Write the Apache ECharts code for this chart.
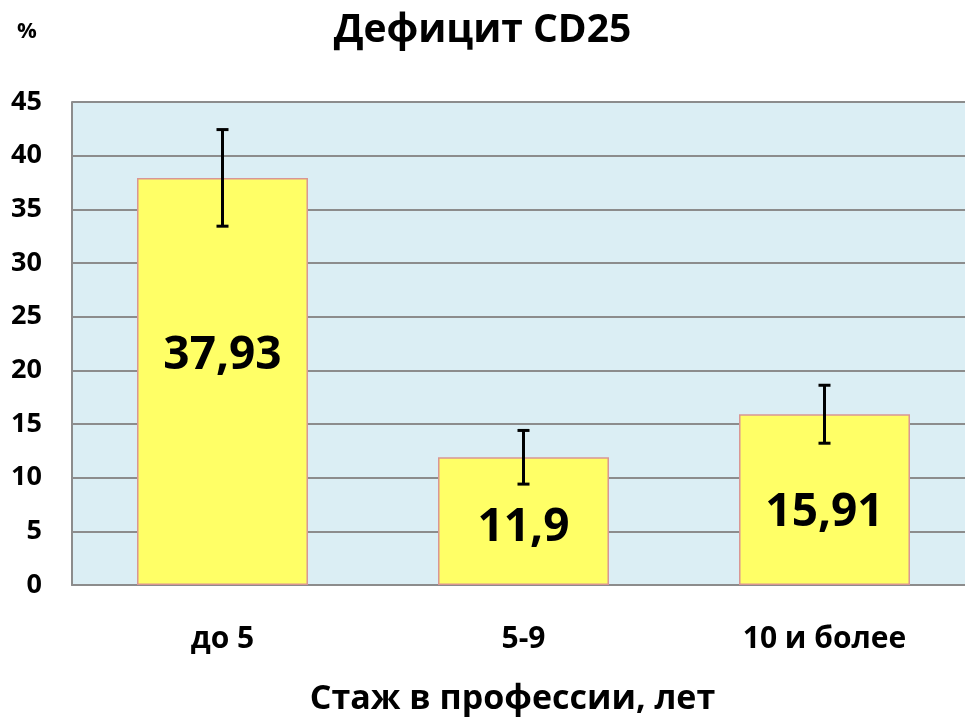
<!DOCTYPE html>
<html>
<head>
<meta charset="utf-8">
<script src="https://cdn.jsdelivr.net/npm/echarts@6/dist/echarts.min.js"></script>
<style>
  html, body { margin: 0; padding: 0; background: #fff; }
  #chart { width: 965px; height: 717px; }
</style>
</head>
<body>
<div id="chart"></div>
<script>
// данные
const categories = ['до 5', '5-9', '10 и более'];
const values = [37.93, 11.9, 15.91];
const errLow = [33.43, 9.4, 13.21];
const errHigh = [42.43, 14.4, 18.61];
const labelOffsets = [-26, 7, 13];

const FONT = '"Open Sans", "DejaVu Sans", sans-serif';

const chart = echarts.init(document.getElementById('chart'));

const option = {
  animation: false,
  title: [
    {
      text: 'Дефицит CD25',
      left: 'center',
      top: 6,
      textStyle: { fontFamily: FONT, fontSize: 39, fontWeight: 'bold', color: '#000' }
    },
    {
      text: '%',
      left: 12,
      top: 16,
      textStyle: { fontFamily: FONT, fontSize: 22, fontWeight: 'bold', color: '#000' }
    }
  ],
  grid: {
    left: 72,
    right: -10,
    top: 102,
    bottom: 132,
    outerBoundsMode: 'none',
    containLabel: false,
    show: true,
    backgroundColor: '#dbeef4',
    borderWidth: 0
  },
  xAxis: {
    type: 'category',
    data: categories,
    axisTick: { show: false },
    axisLine: { lineStyle: { color: '#8c8c8c', width: 2 } },
    axisLabel: {
      fontFamily: FONT, fontSize: 30, fontWeight: 'bold', color: '#000', margin: 39
    },
    name: 'Стаж в профессии, лет',
    nameLocation: 'middle',
    nameGap: 97,
    nameTextStyle: {
      fontFamily: FONT, fontSize: 34, fontWeight: 'bold', color: '#000', padding: [0, 22, 0, 0]
    }
  },
  yAxis: {
    type: 'value',
    min: 0,
    max: 45,
    interval: 5,
    axisLine: { show: true, lineStyle: { color: '#8c8c8c', width: 2 } },
    axisTick: { show: false },
    splitLine: { lineStyle: { color: '#8c8c8c', width: 2 } },
    axisLabel: {
      fontFamily: FONT, fontSize: 27, fontWeight: 'bold', color: '#000', margin: 30
    }
  },
  series: [
    {
      type: 'bar',
      barWidth: '56.8%',
      data: values.map((v, i) => ({
        value: v,
        label: { offset: [0, labelOffsets[i]] }
      })),
      itemStyle: { color: '#ffff66', borderColor: '#d99694', borderWidth: 1.5 },
      label: {
        show: true,
        position: 'inside',
        formatter: p => String(p.value).replace('.', ','),
        fontFamily: FONT,
        fontSize: 46,
        fontWeight: 'bold',
        color: '#000'
      },
      z: 2
    },
    {
      type: 'custom',
      data: categories.map((c, i) => [i, errLow[i], errHigh[i]]),
      renderItem: function (params, api) {
        const x = api.value(0);
        const lo = api.coord([x, api.value(1)]);
        const hi = api.coord([x, api.value(2)]);
        const cap = 6;
        const style = { stroke: '#000', lineWidth: 3 };
        return {
          type: 'group',
          children: [
            { type: 'line', shape: { x1: hi[0], y1: hi[1], x2: lo[0], y2: lo[1] }, style },
            { type: 'line', shape: { x1: hi[0] - cap, y1: hi[1], x2: hi[0] + cap, y2: hi[1] }, style },
            { type: 'line', shape: { x1: lo[0] - cap, y1: lo[1], x2: lo[0] + cap, y2: lo[1] }, style }
          ]
        };
      },
      z: 3
    }
  ]
};

chart.setOption(option);
</script>
</body>
</html>
